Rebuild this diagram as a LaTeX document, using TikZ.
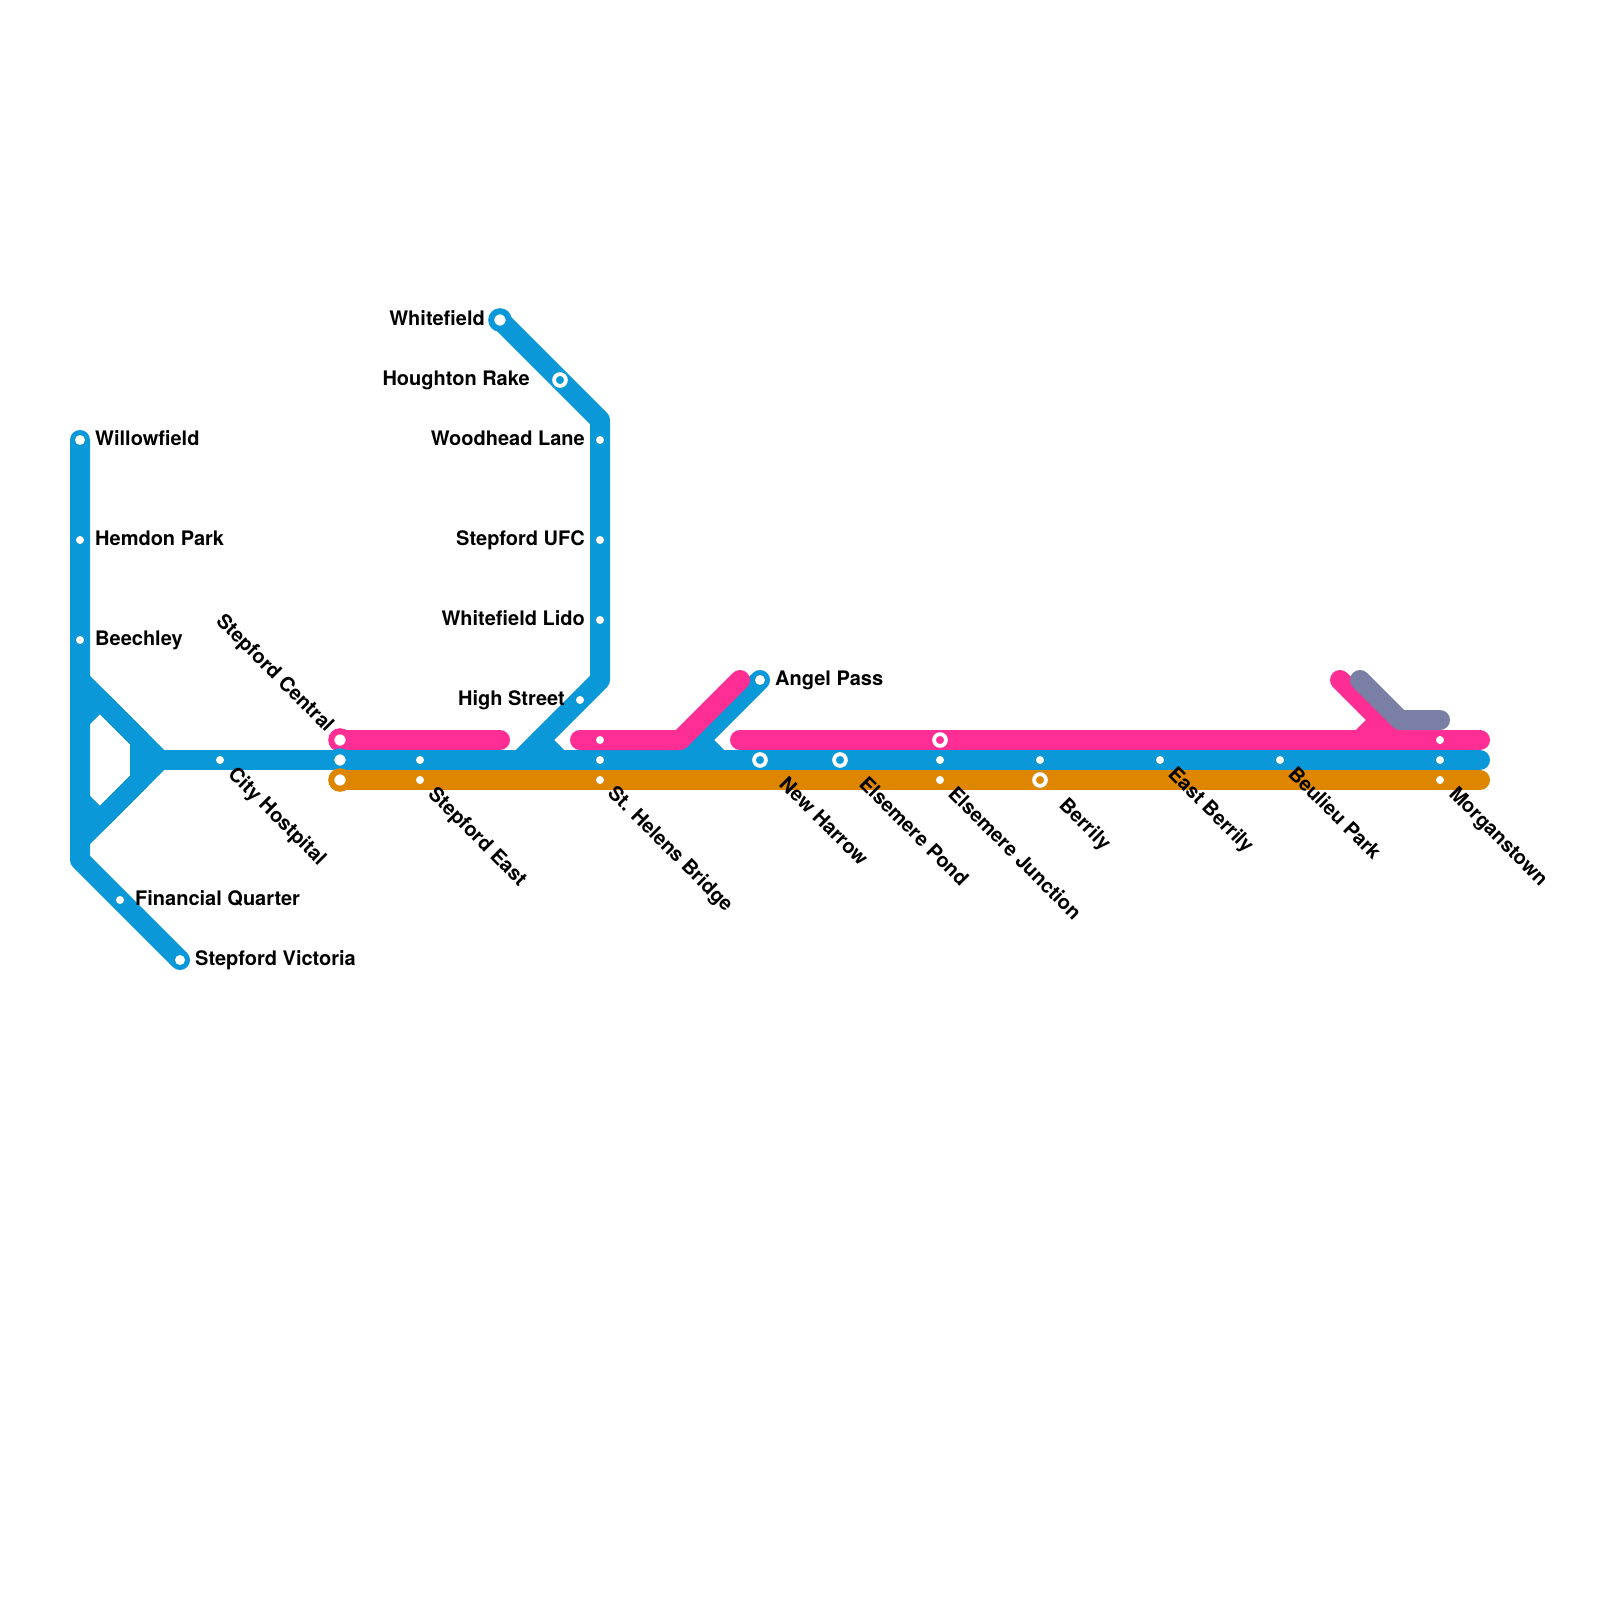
\documentclass[tikz,border=0pt]{standalone}
\usepackage{fontspec}
\setmainfont{TeX Gyre Heros}
\definecolor{lblue}{HTML}{0A98D8}
\definecolor{lpink}{HTML}{FF2E95}
\definecolor{lorange}{HTML}{DE8600}
\definecolor{lgray}{HTML}{7A80A5}
\tikzset{
  metro/.style={line width=20pt,line cap=round,line join=round},
  dotst/.style={circle,fill=white,draw=none,minimum size=8pt,inner sep=0pt},
  endst/.style={circle,fill=white,draw=none,minimum size=10pt,inner sep=0pt},
  ringst/.style={circle,fill=#1,draw=white,line width=3.8pt,minimum size=11.8pt,inner sep=0pt},
  termst/.style={circle,fill=white,draw=#1,line width=6pt,minimum size=17.5pt,inner sep=0pt},
  lab/.style={font=\bfseries\fontsize{20}{24}\selectfont,text=black,inner sep=0pt},
  labR/.style={lab,anchor=base west},
  labL/.style={lab,anchor=base east},
  labD/.style={lab,anchor=base west,rotate=-45},
  labU/.style={lab,anchor=base east,rotate=-45},
}
\begin{document}
\begin{tikzpicture}[x=1pt,y=-1pt]
\useasboundingbox (0,0) rectangle (1600,1600);
\fill[white] (0,0) rectangle (1600,1600);
% stations
\coordinate (willow) at (80,440);
\coordinate (hemdon) at (80,540);
\coordinate (beech) at (80,640);
\coordinate (fin) at (120,900);
\coordinate (vict) at (180,960);
\coordinate (city) at (220,760);
\coordinate (scP) at (340,740);
\coordinate (scB) at (340,760);
\coordinate (scO) at (340,780);
\coordinate (seB) at (420,760);
\coordinate (seO) at (420,780);
\coordinate (whitef) at (500,320);
\coordinate (hough) at (560,380);
\coordinate (wood) at (600,440);
\coordinate (ufc) at (600,540);
\coordinate (lido) at (600,620);
\coordinate (high) at (580,700);
\coordinate (shP) at (600,740);
\coordinate (shB) at (600,760);
\coordinate (shO) at (600,780);
\coordinate (angel) at (760,680);
\coordinate (newh) at (760,760);
\coordinate (pond) at (840,760);
\coordinate (ejP) at (940,740);
\coordinate (ejB) at (940,760);
\coordinate (ejO) at (940,780);
\coordinate (berB) at (1040,760);
\coordinate (berO) at (1040,780);
\coordinate (east) at (1160,760);
\coordinate (beau) at (1280,760);
\coordinate (morP) at (1440,740);
\coordinate (morB) at (1440,760);
\coordinate (morO) at (1440,780);
% track points
\coordinate (a1) at (80,680);
\coordinate (a2) at (160,760);
\coordinate (a3) at (80,840);
\coordinate (a4) at (80,860);
\coordinate (b1) at (80,720);
\coordinate (b2) at (100,700);
\coordinate (b3) at (140,740);
\coordinate (b4) at (140,780);
\coordinate (b5) at (100,820);
\coordinate (b6) at (80,800);
\coordinate (c1) at (600,420);
\coordinate (c2) at (600,680);
\coordinate (c3) at (520,760);
\coordinate (c4) at (540,740);
\coordinate (c5) at (560,760);
\coordinate (d1) at (680,760);
\coordinate (d2) at (700,740);
\coordinate (d3) at (720,760);
\coordinate (rB) at (1480,760);
\coordinate (rO) at (1480,780);
\coordinate (rP) at (1480,740);
\coordinate (p1) at (500,740);
\coordinate (p2) at (580,740);
\coordinate (p3) at (680,740);
\coordinate (p4) at (740,680);
\coordinate (p5) at (740,740);
\coordinate (q1) at (1340,680);
\coordinate (q2) at (1380,720);
\coordinate (q3) at (1360,740);
\coordinate (q4) at (1400,740);
\coordinate (g1) at (1360,680);
\coordinate (g2) at (1400,720);
\coordinate (g3) at (1440,720);
% blue
\draw[metro,lblue] (willow) -- (a4) -- (vict);
\draw[metro,lblue] (a1) -- (a2) -- (a3);
\draw[metro,lblue] (b1) -- (b2) -- (b3) -- (b4) -- (b5) -- (b6);
\draw[metro,lblue] (a2) -- (rB);
\draw[metro,lblue] (whitef) -- (c1) -- (c2) -- (c3);
\draw[metro,lblue] (c4) -- (c5);
\draw[metro,lblue] (angel) -- (d1);
\draw[metro,lblue] (d2) -- (d3);
% orange
\draw[metro,lorange] (scO) -- (rO);
% pink
\draw[metro,lpink] (scP) -- (p1);
\draw[metro,lpink] (p2) -- (p3) -- (p4);
\draw[metro,lpink] (p5) -- (rP);
\draw[metro,lpink] (q1) -- (q4);
\draw[metro,lpink] (q2) -- (q3);
% gray
\draw[metro,lgray] (g1) -- (g2) -- (g3);
% stations
\node[termst=lpink] (nscP) at (scP) {};
\node[termst=lblue] (nscB) at (scB) {};
\node[termst=lorange] (nscO) at (scO) {};
\node[termst=lblue] (nwhitef) at (whitef) {};
\node[endst] (nwillow) at (willow) {};
\node[endst] (nvict) at (vict) {};
\node[endst] (nangel) at (angel) {};
\node[dotst] (nhemdon) at (hemdon) {};
\node[dotst] (nbeech) at (beech) {};
\node[dotst] (nfin) at (fin) {};
\node[dotst] (ncity) at (city) {};
\node[dotst] (nseB) at (seB) {};
\node[dotst] (nseO) at (seO) {};
\node[ringst=lblue] (nhough) at (hough) {};
\node[dotst] (nwood) at (wood) {};
\node[dotst] (nufc) at (ufc) {};
\node[dotst] (nlido) at (lido) {};
\node[dotst] (nhigh) at (high) {};
\node[dotst] (nshP) at (shP) {};
\node[dotst] (nshB) at (shB) {};
\node[dotst] (nshO) at (shO) {};
\node[ringst=lblue] (nnewh) at (newh) {};
\node[ringst=lblue] (npond) at (pond) {};
\node[ringst=lpink] (nejP) at (ejP) {};
\node[dotst] (nejB) at (ejB) {};
\node[dotst] (nejO) at (ejO) {};
\node[dotst] (nberB) at (berB) {};
\node[ringst=lorange] (nberO) at (berO) {};
\node[dotst] (neast) at (east) {};
\node[dotst] (nbeau) at (beau) {};
\node[dotst] (nmorP) at (morP) {};
\node[dotst] (nmorB) at (morB) {};
\node[dotst] (nmorO) at (morO) {};
% labels
\node[labR] (lwillow) at (95,445) {Willowfield};
\node[labR] (lhemdon) at (95,545) {Hemdon Park};
\node[labR] (lbeech) at (95,645) {Beechley};
\node[labR] (lfin) at (135,905) {Financial Quarter};
\node[labR] (lvict) at (195,965) {Stepford Victoria};
\node[labR] (langel) at (775,685) {Angel Pass};
\node[labL] (lwhitef) at (485,325) {Whitefield};
\node[labL] (lhough) at (530,385) {Houghton Rake};
\node[labL] (lwood) at (585,445) {Woodhead Lane};
\node[labL] (lufc) at (585,545) {Stepford UFC};
\node[labL] (llido) at (585,625) {Whitefield Lido};
\node[labL] (lhigh) at (565,705) {High Street};
\node[labU] (lsc) at (326,733) {Stepford Central};
\node[labD] (lcity) at (227,775) {City Hostpital};
\node[labD] (lse) at (427,795) {Stepford East};
\node[labD] (lsh) at (606.5,794) {St. Helens Bridge};
\node[labD] (lnewh) at (778,785) {New Harrow};
\node[labD] (lpond) at (858,785) {Elsemere Pond};
\node[labD] (lej) at (947,795) {Elsemere Junction};
\node[labD] (lber) at (1058,806) {Berrily};
\node[labD] (least) at (1167,775) {East Berrily};
\node[labD] (lbeau) at (1287,775) {Beulieu Park};
\node[labD] (lmor) at (1448,795) {Morganstown};
\end{tikzpicture}
\end{document}
